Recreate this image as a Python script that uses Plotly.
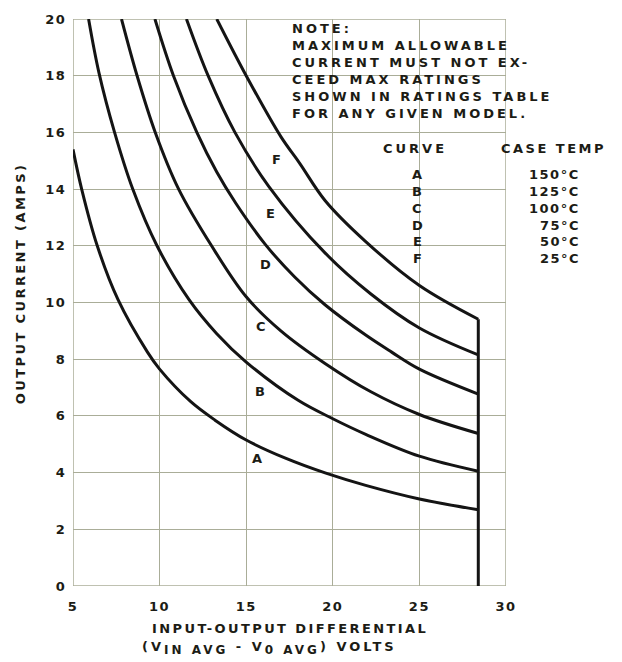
import plotly.graph_objects as go

# Derating curves: input-output differential (V) vs. maximum output current (A)
curve_a_v = [5.0, 5.5, 6.4, 7.6, 9.3, 10.0, 11.8, 13.2, 15.0, 17.3, 19.6, 21.9, 25.0, 28.4]
curve_a_i = [15.4, 14.0, 12.0, 10.1, 8.25, 7.65, 6.5, 5.85, 5.15, 4.5, 3.98, 3.55, 3.07, 2.69]

curve_b_v = [5.9, 6.5, 7.4, 8.45, 9.85, 11.7, 13.3, 15.0, 18.0, 20.0, 21.9, 25.0, 28.4]
curve_b_i = [20.0, 18.1, 16.0, 14.0, 12.0, 10.1, 8.9, 7.9, 6.55, 5.9, 5.35, 4.58, 4.05]

curve_c_v = [7.8, 8.7, 9.75, 11.1, 13.0, 15.0, 17.0, 19.55, 22.2, 25.0, 28.4]
curve_c_i = [20.0, 18.0, 16.0, 14.0, 12.0, 10.2, 9.0, 7.85, 6.85, 6.05, 5.38]

curve_d_v = [9.73, 10.8, 12.15, 13.3, 14.4, 16.1, 17.8, 19.55, 21.9, 23.4, 25.0, 28.4]
curve_d_i = [20.0, 18.0, 16.0, 14.6, 13.5, 12.05, 10.9, 9.92, 8.85, 8.25, 7.65, 6.77]

curve_e_v = [11.55, 12.8, 14.35, 16.3, 19.55, 22.2, 25.0, 28.4]
curve_e_i = [20.0, 18.0, 16.0, 14.1, 11.75, 10.3, 9.1, 8.15]

curve_f_v = [13.3, 15.0, 17.0, 18.1, 19.55, 21.9, 25.0, 28.4]
curve_f_i = [20.0, 18.0, 15.85, 14.9, 13.6, 12.15, 10.6, 9.41]

# Maximum input-output differential (vertical limit)
v_limit = 28.4

curve_names = ["A", "B", "C", "D", "E", "F"]
case_temps = [150, 125, 100, 75, 50, 25]

x_ticks = [5, 10, 15, 20, 25, 30]
y_ticks = [0, 2, 4, 6, 8, 10, 12, 14, 16, 18, 20]

note_lines = [
    "NOTE:",
    "MAXIMUM ALLOWABLE",
    "CURRENT MUST NOT EX-",
    "CEED MAX RATINGS",
    "SHOWN IN RATINGS TABLE",
    "FOR ANY GIVEN MODEL.",
]

INK = "#1c1c15"
GRID = "#aaad98"
FONT = "DejaVu Sans"


def spaced(text, px=2.5):
    return f'<span style="letter-spacing:{px}px">{text}</span>'


def txt_font(size=13):
    return dict(family=FONT, size=size, color=INK, weight="bold")


# plot area in pixels: left 73, right 506, top 15, bottom 586
L, R, T, B = 73, 506, 15, 586


def px_x(p):
    return (p - L) / (R - L)


def px_y(p):
    return (B - p) / (B - T)


series = [
    (curve_a_v, curve_a_i),
    (curve_b_v, curve_b_i),
    (curve_c_v, curve_c_i),
    (curve_d_v, curve_d_i),
    (curve_e_v, curve_e_i),
    (curve_f_v, curve_f_i),
]

fig = go.Figure()
for name, (vv, ii) in zip(curve_names, series):
    fig.add_trace(go.Scatter(
        x=vv, y=ii, mode="lines", name=name,
        line=dict(color="#141414", width=3, shape="spline", smoothing=1.0),
        showlegend=False, hoverinfo="skip",
    ))

top_end = max(ii[-1] for _, ii in series)
fig.add_trace(go.Scatter(
    x=[v_limit, v_limit], y=[0, top_end], mode="lines",
    line=dict(color="#141414", width=3), showlegend=False, hoverinfo="skip",
))

# curve letters next to each curve
label_pos = {"A": (15.6, 4.5), "B": (15.8, 6.85), "C": (15.85, 9.15),
             "D": (16.1, 11.35), "E": (16.4, 13.15), "F": (16.75, 15.05)}
annotations = []
for name in curve_names:
    lx, ly = label_pos[name]
    annotations.append(dict(
        x=lx, y=ly, xref="x", yref="y", text=name, showarrow=False,
        xanchor="center", yanchor="middle", font=txt_font(),
    ))

# note block
annotations.append(dict(
    x=px_x(290), y=px_y(15), xref="paper", yref="paper",
    xanchor="left", yanchor="top", align="left", showarrow=False,
    text="<br>".join(spaced(t, 3.0) for t in note_lines),
    font=txt_font(),
))

# curve / case-temperature table
annotations.append(dict(
    x=px_x(415), y=px_y(145), xref="paper", yref="paper", showarrow=False,
    xanchor="center", yanchor="middle",
    text=spaced("CURVE", 3), font=txt_font(),
))
annotations.append(dict(
    x=px_x(553), y=px_y(145), xref="paper", yref="paper", showarrow=False,
    xanchor="center", yanchor="middle",
    text=spaced("CASE TEMP", 2.5), font=txt_font(),
))
row_y = [172, 189, 206, 223, 239, 256]
for name, temp, ry in zip(curve_names, case_temps, row_y):
    annotations.append(dict(
        x=px_x(417), y=px_y(ry), xref="paper", yref="paper", showarrow=False,
        xanchor="center", yanchor="middle", text=name, font=txt_font(),
    ))
    annotations.append(dict(
        x=px_x(582), y=px_y(ry), xref="paper", yref="paper", showarrow=False,
        xanchor="right", yanchor="middle", text=spaced(f"{temp}°C", 1.5),
        font=txt_font(),
    ))

# axis titles
annotations.append(dict(
    x=px_x(20), y=px_y(282), xref="paper", yref="paper", showarrow=False,
    xanchor="center", yanchor="middle", textangle=-90,
    text=spaced("OUTPUT CURRENT (AMPS)", 2.4), font=txt_font(),
))
annotations.append(dict(
    x=px_x(290), y=px_y(629), xref="paper", yref="paper", showarrow=False,
    xanchor="center", yanchor="middle",
    text=spaced("INPUT-OUTPUT DIFFERENTIAL", 2.4), font=txt_font(),
))
sub = '<sub><span style="font-size:12px">{}</span></sub>'
annotations.append(dict(
    x=px_x(140), y=px_y(648), xref="paper", yref="paper", showarrow=False,
    xanchor="left", yanchor="middle",
    text=spaced("(V" + sub.format("IN AVG") + " - V" + sub.format("0 AVG") + ") VOLTS", 3.0),
    font=txt_font(),
))

# frame around the plot, plus white panels behind the note and table
shapes = [
    dict(type="rect", xref="x", yref="y", layer="below",
         x0=x_ticks[0], x1=x_ticks[-1], y0=y_ticks[0], y1=y_ticks[-1],
         fillcolor="rgba(0,0,0,0)", line=dict(color=GRID, width=1.5)),
    dict(type="rect", xref="paper", yref="paper", layer="between",
         x0=px_x(285), x1=px_x(512), y0=px_y(124), y1=px_y(17),
         fillcolor="white", line=dict(width=0)),
    dict(type="rect", xref="paper", yref="paper", layer="between",
         x0=px_x(378), x1=px_x(512), y0=px_y(288), y1=px_y(131),
         fillcolor="white", line=dict(width=0)),
]

fig.update_layout(
    width=622, height=662,
    margin=dict(l=L, r=622 - R, t=T, b=662 - B),
    paper_bgcolor="white", plot_bgcolor="white",
    annotations=annotations, shapes=shapes,
    font=dict(family=FONT, size=13, color=INK),
)
fig.update_xaxes(
    range=[5, 30], tickvals=x_ticks, ticktext=[spaced(str(v), 1.5) for v in x_ticks],
    showgrid=True, gridcolor=GRID, gridwidth=1, zeroline=False, showline=False,
    ticks="outside", ticklen=8, tickcolor="rgba(0,0,0,0)",
    tickfont=txt_font(),
)
fig.update_yaxes(
    range=[0, 20], tickvals=y_ticks, ticktext=[spaced(str(v), 1.5) for v in y_ticks],
    showgrid=True, gridcolor=GRID, gridwidth=1, zeroline=False, showline=False,
    ticks="outside", ticklen=3, tickcolor="rgba(0,0,0,0)",
    tickfont=txt_font(),
)

fig.write_html("out.html")
